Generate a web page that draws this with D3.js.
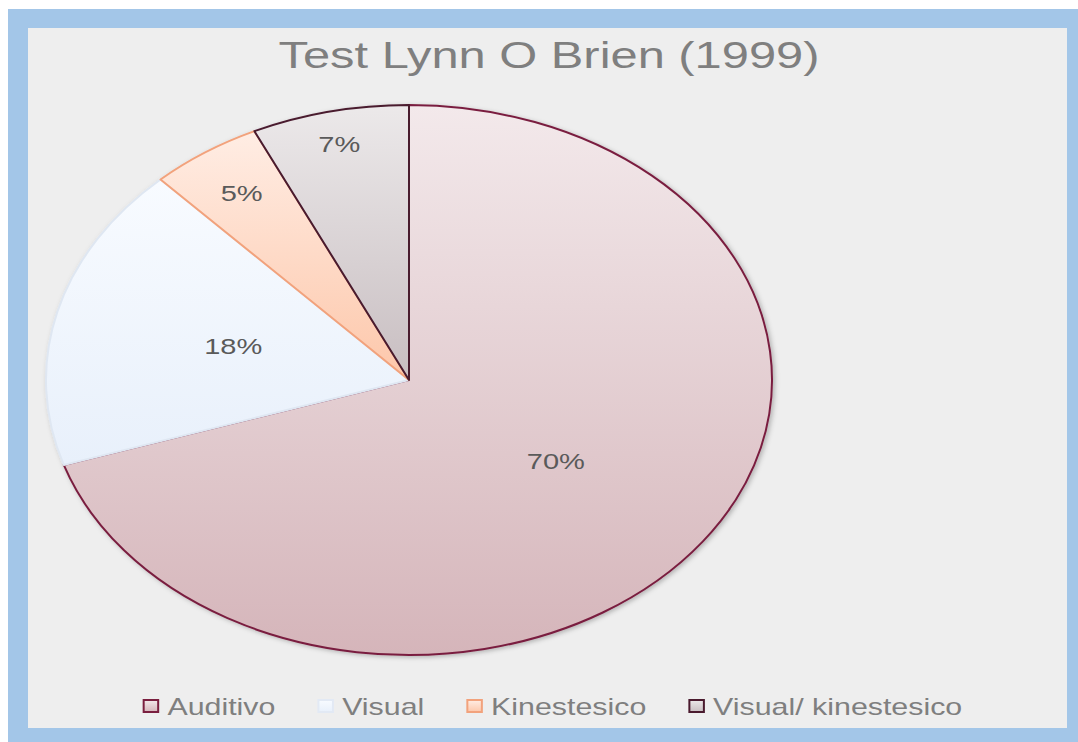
<head>
    <meta charset="utf-8">
    <title>Test Lynn O Brien</title>
    <script src="https://d3js.org/d3.v7.min.js"></script>
    <style>
        body { margin: 0; background: #ffffff; }
        text { font-family: "Liberation Sans", Arial, sans-serif; }
    </style>
</head>

<body>
    <svg id="chart" width="1078" height="742"></svg>
    <script>
        // chart data
        var categories = ["Auditivo", "Visual", "Kinestesico", "Visual/ kinestesico"];
        var values = [70, 18, 5, 7];
        var labels = ["70%", "18%", "5%", "7%"];
        var title = "Test Lynn O Brien (1999)";

        var topColors = ["#f3e9eb", "#f8fbff", "#ffede4", "#ece9ea"];
        var bottomColors = ["#d5b5ba", "#e8f0fb", "#fdc7aa", "#c8bec1"];
        var strokeColors = ["#7a1f3f", "#dfe7f2", "#f2a27c", "#4a1a2e"];

        var width = 1078, height = 742;
        var stretch = 1.32;   // the whole picture is wider than tall
        var cx = 409, cy = 380, radius = 275;

        var svg = d3.select("#chart");

        // frame
        svg.append("rect").attr("x", 8).attr("y", 9).attr("width", width - 8).attr("height", height - 9)
            .attr("fill", "#a3c6e8");
        svg.append("rect").attr("x", 28).attr("y", 28).attr("width", 1039).attr("height", 700)
            .attr("fill", "#eeeeee");

        var defs = svg.append("defs");
        values.forEach(function (v, i) {
            var g = defs.append("linearGradient").attr("id", "grad" + i)
                .attr("x1", 0).attr("y1", 0).attr("x2", 0).attr("y2", 1);
            g.append("stop").attr("offset", "0%").attr("stop-color", topColors[i]);
            g.append("stop").attr("offset", "100%").attr("stop-color", bottomColors[i]);
        });
        var shadow = defs.append("filter").attr("id", "shadow")
            .attr("x", "-10%").attr("y", "-10%").attr("width", "120%").attr("height", "120%");
        shadow.append("feDropShadow").attr("dx", 1.5).attr("dy", 1.5).attr("stdDeviation", 2)
            .attr("flood-color", "#000").attr("flood-opacity", 0.25);

        // title
        svg.append("text")
            .attr("transform", "translate(549,68) scale(" + stretch + ",1)")
            .attr("text-anchor", "middle")
            .attr("font-size", 37)
            .attr("fill", "#7f7f7f")
            .text(title);

        // pie
        var pie = d3.pie().sort(null).value(function (d) { return d; });
        var arc = d3.arc().innerRadius(0).outerRadius(radius);
        var arcs = pie(values);

        var g = svg.append("g")
            .attr("transform", "translate(" + cx + "," + cy + ") scale(" + stretch + ",1)");

        g.append("g").attr("filter", "url(#shadow)")
            .selectAll("path")
            .data(arcs)
            .enter()
            .append("path")
            .attr("d", arc)
            .attr("fill", function (d, i) { return "url(#grad" + i + ")"; })
            .attr("stroke", function (d, i) { return strokeColors[i]; })
            .attr("stroke-width", 2)
            .attr("stroke-linejoin", "round")
            .attr("vector-effect", "non-scaling-stroke");

        // labels: big slices inside, small slices pushed to the rim
        arcs.forEach(function (d, i) {
            var r = d.value < 10 ? radius * (d.value < 6 ? 0.82 : 0.88) : radius * 0.5;
            var p = d3.arc().innerRadius(r).outerRadius(r).centroid(d);
            svg.append("text")
                .attr("transform", "translate(" + (cx + p[0] * stretch) + "," + (cy + p[1] + 8) + ") scale(" + stretch + ",1)")
                .attr("text-anchor", "middle")
                .attr("font-size", 22)
                .attr("fill", "#5a5a5a")
                .text(labels[i]);
        });

        // legend
        var legend = svg.append("g");
        var x = 0, gap = 43, items = [];
        categories.forEach(function (c, i) {
            var item = legend.append("g");
            item.append("rect").attr("x", 0).attr("y", -15).attr("width", 11).attr("height", 12)
                .attr("fill", "url(#grad" + i + ")")
                .attr("stroke", strokeColors[i] === "#dfe7f2" ? "#e2e9f4" : strokeColors[i])
                .attr("stroke-width", 2)
                .attr("vector-effect", "non-scaling-stroke");
            var t = item.append("text").attr("x", 18).attr("y", 0)
                .attr("font-size", 23).attr("fill", "#7f7f7f").text(c);
            var w = (18 + t.node().getComputedTextLength()) * stretch;
            item.attr("transform", "translate(" + x + ",715) scale(" + stretch + ",1)");
            x += w + gap;
        });
        var total = x - gap;
        legend.attr("transform", "translate(" + (553 - total / 2) + ",0)");
    </script>

</body>
